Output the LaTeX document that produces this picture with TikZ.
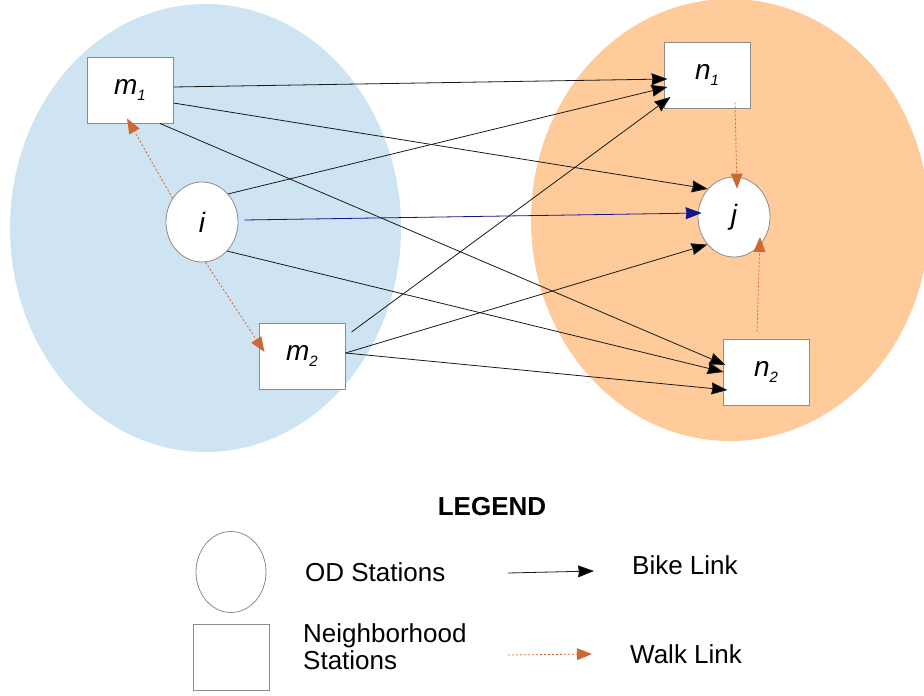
\documentclass[tikz,border=0pt]{standalone}
\usepackage{fontspec}
\setmainfont{Liberation Sans}
\usetikzlibrary{arrows.meta,shapes.geometric}
\definecolor{bgblue}{RGB}{207,228,242}
\definecolor{bgorange}{RGB}{255,203,155}
\definecolor{walkc}{RGB}{206,104,50}
\definecolor{edgegray}{RGB}{140,140,140}
\definecolor{bluelink}{RGB}{20,20,140}
\tikzset{
  nbox/.style={draw=edgegray, line width=1pt, fill=white, minimum width=86pt, minimum height=66pt, inner sep=0pt},
  odnode/.style={ellipse, draw=edgegray, line width=0.8pt, fill=white, minimum width=72pt, minimum height=80pt, inner sep=0pt},
  lbl/.style={font=\fontsize{28}{32}\selectfont\itshape},
  bike/.style={draw=black!90, line width=0.8pt, -{Stealth[length=16pt,width=12pt,inset=1pt,fill=black]}},
  bluebike/.style={draw=bluelink, line width=0.8pt, -{Stealth[length=16pt,width=12pt,inset=1pt,fill=bluelink]}},
  walk/.style={draw=walkc, line width=0.8pt, dash pattern=on 2pt off 2pt, -{Triangle[length=15pt,width=12pt,fill=walkc,line width=0pt]}},
  legtext/.style={font=\fontsize{26}{30}\selectfont, inner sep=0pt},
}
\newcommand{\sublbl}[2]{#1\raisebox{-0.4ex}{\fontsize{15}{15}\selectfont #2}}
\begin{document}
\begin{tikzpicture}[x=1pt,y=-1pt]
\useasboundingbox (0,0) rectangle (924,696);
\begin{scope}
\clip (0,0) rectangle (924,696);
\fill[bgblue] (205.5,228) ellipse [x radius=195.5pt, y radius=224pt];
\fill[bgorange] (730,220) ellipse [x radius=199pt, y radius=221pt];
\end{scope}

% station nodes
\node[nbox, lbl] (m1) at (130,90) {\sublbl{m}{1}};
\node[odnode, lbl] (i) at (202,222) {i};
\node[nbox, lbl] (m2) at (302,356) {\sublbl{m}{2}};
\node[nbox, lbl] (n1) at (707,75) {\sublbl{n}{1}};
\node[odnode, lbl] (j) at (734,217) {j};
\node[nbox, lbl] (n2) at (766,372) {\sublbl{n}{2}};

% bike links
\draw[bike] ([yshift=3pt]m1.east) -- ([xshift=4pt,yshift=-4pt]n1.west);
\draw[bike] ([yshift=-13pt]m1.east) -- (j.133);
\draw[bike] ([xshift=30pt]m1.south) -- ([xshift=3pt,yshift=7pt]n2.west);
\draw[bike] (i.47) -- ([xshift=4pt,yshift=-12pt]n1.west);
\draw[bluebike] ([xshift=6pt,yshift=2pt]i.east) -- ([xshift=4pt,yshift=4pt]j.west);
\draw[bike] (i.-49) -- ([xshift=1pt]n2.west);
\draw[bike] ([xshift=6pt,yshift=24pt]m2.east) -- ([xshift=7pt,yshift=-22pt]n1.west);
\draw[bike] ([yshift=3pt]m2.east) -- (j.226);
\draw[bike] ([yshift=3pt]m2.east) -- ([xshift=5pt,yshift=-18pt]n2.west);

% walk links
\draw[walk] (i.141) -- ([xshift=-3pt,yshift=5pt]m1.south);
\draw[walk] (i.-85) -- ([xshift=6pt,yshift=4pt]m2.west);
\draw[walk] ([xshift=28pt,yshift=6pt]n1.south) -- ([xshift=3pt,yshift=-12pt]j.north);
\draw[walk] ([xshift=-9pt,yshift=7pt]n2.north) -- ([xshift=26pt,yshift=-20pt]j.center);

% legend
\node[font=\fontsize{26}{30}\selectfont\bfseries] (legtitle) at (492,507) {LEGEND};
\node[ellipse, draw=edgegray, line width=0.8pt, minimum width=70pt, minimum height=81pt, inner sep=0pt] (legod) at (231,572) {};
\node[draw=edgegray, line width=0.8pt, minimum width=76pt, minimum height=66pt, inner sep=0pt] (legnb) at (231,657) {};
\node[legtext, anchor=west] (odtext) at (305,572) {OD Stations};
\node[legtext, anchor=west, align=left] (nbtext) at (303,647) {Neighborhood\\[-3pt]Stations};
\coordinate (bk1) at (508,573);
\coordinate (bk2) at (594,571);
\draw[bike] (bk1) -- (bk2);
\node[legtext, anchor=west] (biketext) at (632,565) {Bike Link};
\coordinate (wk1) at (508,655);
\coordinate (wk2) at (592,654);
\draw[walk] (wk1) -- (wk2);
\node[legtext, anchor=west] (walktext) at (630,654) {Walk Link};
\end{tikzpicture}
\end{document}
